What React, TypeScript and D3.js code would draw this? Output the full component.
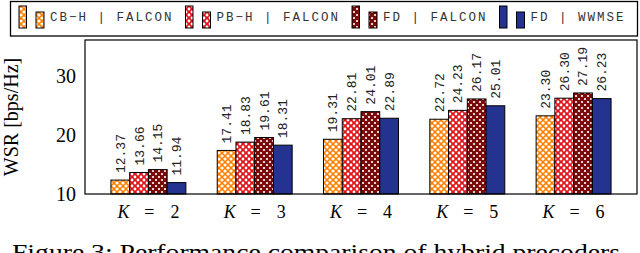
import * as d3 from "d3";

// groups on the x axis (number of users K)
const categories = ["2", "3", "4", "5", "6"];

// WSR values per scheme
const cbhFalcon = [12.37, 17.41, 19.31, 22.72, 23.3];
const pbhFalcon = [13.66, 18.83, 22.81, 24.23, 26.3];
const fdFalcon = [14.15, 19.61, 24.01, 26.17, 27.19];
const fdWwmse = [11.94, 18.31, 22.89, 25.01, 26.23];

const seriesNames = ["CB\u2212H | FALCON", "PB\u2212H | FALCON", "FD | FALCON", "FD | WWMSE"];
const yTicks = [10, 20, 30];

const W = 640;
const H = 253;

const series = [
  { name: seriesNames[0], values: cbhFalcon, color: "#ff8000", pat: "pOrange", dot: 1.6 },
  { name: seriesNames[1], values: pbhFalcon, color: "#e0141b", pat: "pRed", dot: 1.4 },
  { name: seriesNames[2], values: fdFalcon, color: "#7a0a0a", pat: "pDark", dot: 1.1 },
  { name: seriesNames[3], values: fdWwmse, color: "#24338f", pat: null, dot: 0 },
];

const serif = "Liberation Serif, Times New Roman, Tinos, serif";
const mono = "Liberation Mono, Courier New, Cousine, monospace";

const App = () => {
  // plot area
  const margin = { top: 40, bottom: 59, left: 85, right: 3 };

  const x = d3
    .scaleBand()
    .domain(categories)
    .range([margin.left, W - margin.right])
    .paddingInner(0.295)
    .paddingOuter(0.244);

  const xSub = d3
    .scaleBand()
    .domain(series.map((s) => s.name))
    .range([0, x.bandwidth()]);

  const y = d3
    .scaleLinear()
    .domain([10, 36.2])
    .range([H - margin.bottom, margin.top]);

  const fillOf = (s) => (s.pat ? `url(#${s.pat})` : s.color);

  // legend layout: monospace chars 9.5px wide
  const charW = 9.5;
  let lx = 19;
  const legendItems = series.map((s) => {
    const item = { s, x: lx };
    lx += 31 + s.name.length * charW + 12;
    return item;
  });

  return (
    <svg
      width={W}
      height={H}
      style={{ position: "absolute", left: 0, top: 0, background: "#fff" }}
    >
      <defs>
        {series
          .filter((s) => s.pat)
          .map((s) => (
            <pattern
              key={s.pat}
              id={s.pat}
              patternUnits="userSpaceOnUse"
              width={6}
              height={6}
            >
              <rect width={6} height={6} fill={s.color} />
              <circle cx={0} cy={0} r={s.dot} fill="#fff" />
              <circle cx={6} cy={0} r={s.dot} fill="#fff" />
              <circle cx={0} cy={6} r={s.dot} fill="#fff" />
              <circle cx={6} cy={6} r={s.dot} fill="#fff" />
              <circle cx={3} cy={3} r={s.dot} fill="#fff" />
            </pattern>
          ))}
      </defs>

      {/* legend */}
      <rect x={10.5} y={1.5} width={627} height={34.5} fill="#fff" stroke="#000" strokeWidth={1.3} />
      {legendItems.map(({ s, x: ix }) => (
        <g key={s.name}>
          <rect x={ix} y={6} width={7.5} height={22} fill={fillOf(s)} stroke="#000" strokeWidth={1} />
          <rect x={ix + 17} y={12} width={8} height={16} fill={fillOf(s)} stroke="#000" strokeWidth={1} />
          <text
            x={ix + 31}
            y={21}
            style={{ fontFamily: mono }}
            fontSize={12.5}
            letterSpacing={2}
            fill="#333"
          >
            {s.name}
          </text>
        </g>
      ))}

      {/* bars */}
      {series.map((s) =>
        s.values.map((v, i) => {
          const bx = x(categories[i]) + xSub(s.name);
          const by = y(v);
          return (
            <g key={s.name + i}>
              <rect
                x={bx}
                y={by}
                width={xSub.bandwidth()}
                height={y(10) - by}
                fill={fillOf(s)}
                stroke="#000"
                strokeWidth={1}
              />
              <text
                transform={`translate(${bx + xSub.bandwidth() / 2 + 4.5}, ${by - 7}) rotate(-90)`}
                style={{ fontFamily: mono }}
                fontSize={13}
                fill="#222"
              >
                {v.toFixed(2)}
              </text>
            </g>
          );
        })
      )}

      {/* plot frame */}
      <rect
        x={margin.left}
        y={margin.top}
        width={W - margin.left - margin.right}
        height={H - margin.top - margin.bottom}
        fill="none"
        stroke="#000"
        strokeWidth={1.2}
      />

      {/* y tick labels */}
      {yTicks.map((t) => (
        <text
          key={t}
          x={76}
          y={y(t)}
          dy="0.35em"
          textAnchor="end"
          style={{ fontFamily: serif }}
          fontSize={20}
          fill="#000"
        >
          {t}
        </text>
      ))}

      {/* y axis title */}
      <text
        transform={`translate(18, ${(margin.top + H - margin.bottom) / 2}) rotate(-90)`}
        textAnchor="middle"
        style={{ fontFamily: serif }}
        fontSize={20}
        fill="#000"
      >
        WSR [bps/Hz]
      </text>

      {/* x labels */}
      {categories.map((c) => {
        const cx = x(c) + x.bandwidth() / 2;
        return (
          <g key={c} style={{ fontFamily: serif }} fontSize={18} fill="#000">
            <text x={cx - 31} y={218} fontStyle="italic">K</text>
            <text x={cx + 1} y={218} textAnchor="middle">=</text>
            <text x={cx + 31} y={218} textAnchor="end">{c}</text>
          </g>
        );
      })}

      {/* caption (cut off at the bottom, as in the source figure) */}
      <text
        x={12}
        y={260}
        style={{ fontFamily: serif }}
        fontSize={24}
        textLength={608}
        lengthAdjust="spacingAndGlyphs"
        fill="#000"
      >
        Figure 3: Performance comparison of hybrid precoders
      </text>
    </svg>
  );
};

export default App;
